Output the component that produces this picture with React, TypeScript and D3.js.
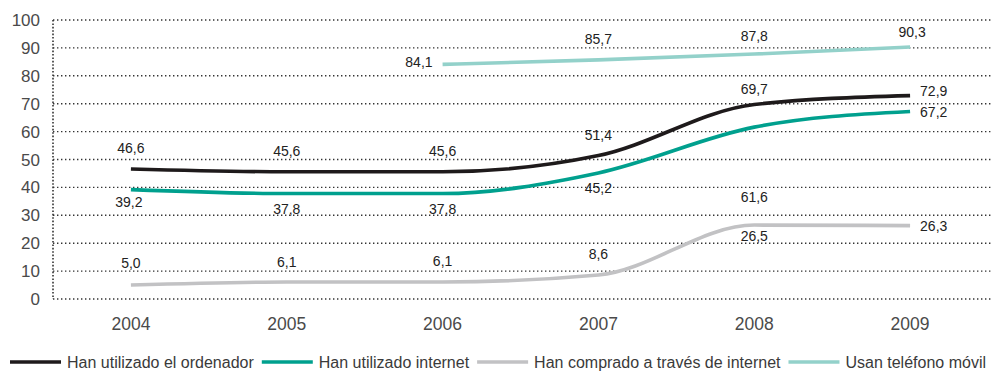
import React, { useEffect, useRef } from "react";
import * as d3 from "d3";

// Categories (years)
const years = ["2004", "2005", "2006", "2007", "2008", "2009"];

// Series values (percent); null where the series has no data
const ordenador = [46.6, 45.6, 45.6, 51.4, 69.7, 72.9];
const internet = [39.2, 37.8, 37.8, 45.2, 61.6, 67.2];
const compras = [5.0, 6.1, 6.1, 8.6, 26.5, 26.3];
const movil = [null, null, 84.1, 85.7, 87.8, 90.3];

// Y axis ticks
const yTicks = [0, 10, 20, 30, 40, 50, 60, 70, 80, 90, 100];

// Series names
const seriesNames = [
  "Han utilizado el ordenador",
  "Han utilizado internet",
  "Han comprado a través de internet",
  "Usan teléfono móvil",
];

// Styling and label placement for each series (dx, dy offsets from the point, anchor)
type Place = { dx: number; dy: number; anchor: string };
const seriesStyle = [
  {
    color: "#1e1a1b",
    places: [
      { dx: 0, dy: -21, anchor: "middle" },
      { dx: 0, dy: -21, anchor: "middle" },
      { dx: 0, dy: -21, anchor: "middle" },
      { dx: 0, dy: -21, anchor: "middle" },
      { dx: 0, dy: -16, anchor: "middle" },
      { dx: 10, dy: -5, anchor: "start" },
    ] as Place[],
  },
  {
    color: "#00a08e",
    places: [
      { dx: -2, dy: 12, anchor: "middle" },
      { dx: 0, dy: 15, anchor: "middle" },
      { dx: 0, dy: 15, anchor: "middle" },
      { dx: 0, dy: 15, anchor: "middle" },
      { dx: 0, dy: 70, anchor: "middle" },
      { dx: 10, dy: 0, anchor: "start" },
    ] as Place[],
  },
  {
    color: "#c2c2c4",
    places: [
      { dx: 0, dy: -22, anchor: "middle" },
      { dx: 0, dy: -20, anchor: "middle" },
      { dx: 0, dy: -21, anchor: "middle" },
      { dx: 0, dy: -21, anchor: "middle" },
      { dx: 0, dy: 11, anchor: "middle" },
      { dx: 10, dy: 0, anchor: "start" },
    ] as Place[],
  },
  {
    color: "#93d1ca",
    places: [
      { dx: 0, dy: 0, anchor: "middle" },
      { dx: 0, dy: 0, anchor: "middle" },
      { dx: -10, dy: -2, anchor: "end" },
      { dx: 0, dy: -21, anchor: "middle" },
      { dx: 0, dy: -18, anchor: "middle" },
      { dx: 2, dy: -15, anchor: "middle" },
    ] as Place[],
  },
];

const W = 993;
const H = 371;
const FONT = "'Liberation Sans', Arial, Helvetica, sans-serif";

export default function App() {
  const ref = useRef<SVGSVGElement | null>(null);

  useEffect(() => {
    const svg = d3.select(ref.current);
    svg.selectAll("*").remove();

    const left = 53;
    const right = 988;
    const top = 20;
    const bottom = 299;

    const x = d3.scalePoint<string>().domain(years).range([left, right]).padding(0.5);
    const y = d3.scaleLinear().domain([0, 100]).range([bottom, top]);

    const fmt = (v: number) => d3.format(".1f")(v).replace(".", ",");

    // Dotted gridlines
    const grid = svg.append("g");
    grid
      .selectAll("line")
      .data(yTicks)
      .join("line")
      .attr("x1", left)
      .attr("x2", W)
      .attr("y1", (d) => y(d))
      .attr("y2", (d) => y(d))
      .attr("stroke", "#333")
      .attr("stroke-width", 1.4)
      .attr("stroke-dasharray", "1.4 2.6");

    // Dotted vertical axis
    svg
      .append("line")
      .attr("x1", left)
      .attr("x2", left)
      .attr("y1", y(100))
      .attr("y2", y(0))
      .attr("stroke", "#333")
      .attr("stroke-width", 1.6)
      .attr("stroke-dasharray", "1.6 1.8");

    // Y tick labels
    svg
      .append("g")
      .selectAll("text")
      .data(yTicks)
      .join("text")
      .attr("x", 40)
      .attr("y", (d) => y(d) + 6)
      .attr("text-anchor", "end")
      .attr("font-family", FONT)
      .attr("font-size", 17)
      .attr("fill", "#4a4a4a")
      .text((d) => String(d));

    // X labels
    svg
      .append("g")
      .selectAll("text")
      .data(years)
      .join("text")
      .attr("x", (d) => x(d)!)
      .attr("y", 330)
      .attr("text-anchor", "middle")
      .attr("font-family", FONT)
      .attr("font-size", 17.5)
      .attr("fill", "#4a4a4a")
      .text((d) => d);

    const allSeries = [ordenador, internet, compras, movil];

    // Lines
    const line = d3
      .line<{ year: string; v: number | null }>()
      .defined((d) => d.v != null)
      .x((d) => x(d.year)!)
      .y((d) => y(d.v as number))
      .curve(d3.curveMonotoneX);

    allSeries.forEach((vals, i) => {
      const pts = years.map((yr, k) => ({ year: yr, v: vals[k] }));
      svg
        .append("path")
        .datum(pts)
        .attr("d", line)
        .attr("fill", "none")
        .attr("stroke", seriesStyle[i].color)
        .attr("stroke-width", 3.6)
        .attr("stroke-linecap", "butt");
    });

    // Value labels
    allSeries.forEach((vals, i) => {
      const pts = years
        .map((yr, k) => ({ year: yr, v: vals[k], p: seriesStyle[i].places[k] }))
        .filter((d) => d.v != null);
      svg
        .append("g")
        .selectAll("text")
        .data(pts)
        .join("text")
        .attr("x", (d) => x(d.year)! + d.p.dx)
        .attr("y", (d) => y(d.v as number) + d.p.dy + 5)
        .attr("text-anchor", (d) => d.p.anchor)
        .attr("font-family", FONT)
        .attr("font-size", 14)
        .attr("fill", "#222")
        .text((d) => fmt(d.v as number));
    });

    // Legend
    const legend = svg.append("g");
    let cx = 10;
    const ly = 362;
    seriesNames.forEach((name, i) => {
      legend
        .append("line")
        .attr("x1", cx)
        .attr("x2", cx + 51)
        .attr("y1", ly)
        .attr("y2", ly)
        .attr("stroke", seriesStyle[i].color)
        .attr("stroke-width", 3.6);
      const t = legend
        .append("text")
        .attr("x", cx + 57)
        .attr("y", ly + 5.5)
        .attr("font-family", FONT)
        .attr("font-size", 16)
        .attr("fill", "#3a3a3a")
        .text(name);
      const w = (t.node() as SVGTextElement).getComputedTextLength();
      cx = cx + 57 + w + 8;
    });
  }, []);

  return (
    <svg
      ref={ref}
      width={W}
      height={H}
      style={{ position: "absolute", left: 0, top: 0, background: "#fff" }}
    />
  );
}
